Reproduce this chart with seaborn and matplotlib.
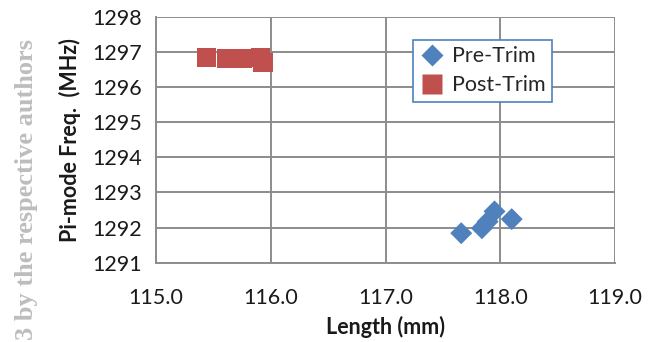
import matplotlib
matplotlib.use("Agg")
import matplotlib.pyplot as plt
import seaborn as sns
import pandas as pd
from matplotlib.lines import Line2D

pre_len = [117.66, 117.84, 117.89, 117.95, 118.10]
pre_freq = [1291.84, 1291.98, 1292.17, 1292.46, 1292.24]
post_len = [115.44, 115.62, 115.75, 115.91, 115.93]
post_freq = [1296.84, 1296.81, 1296.81, 1296.84, 1296.70]
x_ticks = [115.0, 116.0, 117.0, 118.0, 119.0]
y_ticks = [1291, 1292, 1293, 1294, 1295, 1296, 1297, 1298]

df = pd.DataFrame({
    "Length": pre_len + post_len,
    "Freq": pre_freq + post_freq,
    "Series": ["Pre-Trim"] * len(pre_len) + ["Post-Trim"] * len(post_len),
})

sns.set_style("white")
plt.rcParams['font.family'] = ['Lato', 'DejaVu Sans']

fig = plt.figure(figsize=(6.48, 3.42), dpi=100)
ax = fig.add_axes([156/648, 1 - 262.7/342, (615-156)/648, (262.7-16.7)/342])

sns.scatterplot(data=df, x="Length", y="Freq", hue="Series", style="Series", size="Series",
                markers={"Pre-Trim": "D", "Post-Trim": "s"},
                sizes={"Pre-Trim": 125, "Post-Trim": 200},
                palette={"Pre-Trim": "#4F81BD", "Post-Trim": "#C0504D"},
                edgecolor="none", linewidth=0, ax=ax, zorder=3, legend=False)

ax.set_xlim(115, 119)
ax.set_ylim(1291, 1298)
ax.set_xticks(x_ticks)
ax.set_xticklabels([f"{v:.1f}" for v in x_ticks])
ax.set_yticks(y_ticks)
ax.grid(True, color="#8c8c8c", linewidth=1.4)
ax.set_axisbelow(True)
for side in ["top", "right"]:
    ax.spines[side].set_visible(False)
for side in ["left", "bottom"]:
    ax.spines[side].set_color("#8c8c8c")
    ax.spines[side].set_linewidth(1.4)
ax.tick_params(axis="both", direction="out", length=6, width=1.4, color="#8c8c8c",
               labelsize=15.5, labelcolor="#1a1a1a", pad=4)
ax.tick_params(axis="x", pad=12)
ax.set_xlabel("Length (mm)", fontsize=15.5, fontweight="bold", color="#1a1a1a", labelpad=6)
ax.set_ylabel("Pi-mode Freq.  (MHz)", fontsize=15.5, fontweight="bold", color="#1a1a1a", labelpad=8)

handles = [
    Line2D([], [], linestyle="none", marker="D", markersize=11, color="#4F81BD", markeredgecolor="none"),
    Line2D([], [], linestyle="none", marker="s", markersize=15, color="#C0504D", markeredgecolor="none"),
]
leg = ax.legend(handles, ["Pre-Trim", "Post-Trim"], loc="upper left",
                bbox_to_anchor=((413-156)/459, 1 - (40-16.7)/246),
                fontsize=15.5, frameon=True, fancybox=False, borderpad=0.3,
                handlelength=1.2, handletextpad=0.3, labelspacing=0.4, borderaxespad=0)
leg.get_frame().set_edgecolor("#4F81BD")
leg.get_frame().set_linewidth(1.2)
leg.get_frame().set_alpha(1)

fig.text(27/648, 1 - 190/342, "3 by the respective authors", rotation=90, ha="center", va="center",
         fontsize=19, fontweight="bold", color="#bdbdbd", family=["Liberation Serif", "DejaVu Serif"])

fig.savefig("out.png", dpi=100)
